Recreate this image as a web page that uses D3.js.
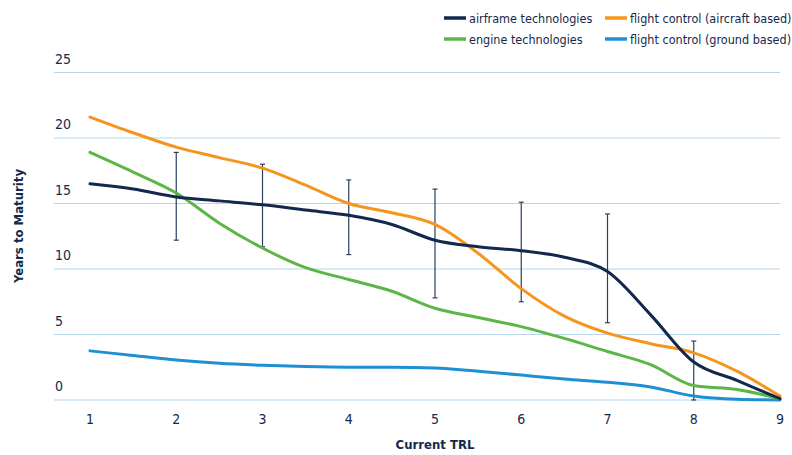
<!DOCTYPE html>
<html lang="en">
<head>
  <meta charset="UTF-8">
  <title>Years to Maturity by Current TRL</title>
  <script src="https://d3js.org/d3.v7.min.js"></script>
  <style>
    body {
      margin: 0;
      background: #fff;
    }
    svg text {
      fill: #13294b;
      font-family: 'DejaVu Sans Condensed', 'DejaVu Sans', sans-serif;
      font-stretch: condensed;
    }
  </style>
</head>
<body>
  <svg id="chart" width="792" height="455"></svg>

  <script>
    // values, at half-TRL steps
    var trlSteps = [1, 1.5, 2, 2.5, 3, 3.5, 4, 4.5, 5, 5.5, 6, 6.5, 7, 7.5, 8, 8.5, 9];
    var airframe = [16.5, 16.1, 15.5, 15.2, 14.9, 14.5, 14.1, 13.4, 12.2, 11.7, 11.4, 10.9, 9.8, 6.5, 2.9, 1.5, 0.1];
    var engine = [18.9, 17.4, 15.8, 13.5, 11.6, 10.1, 9.2, 8.3, 7.0, 6.3, 5.6, 4.7, 3.7, 2.7, 1.1, 0.8, 0.1];
    var flightAircraft = [21.6, 20.4, 19.3, 18.5, 17.7, 16.4, 15.0, 14.3, 13.4, 11.2, 8.5, 6.4, 5.1, 4.3, 3.6, 2.2, 0.3];
    var flightGround = [3.75, 3.4, 3.05, 2.8, 2.65, 2.55, 2.5, 2.5, 2.45, 2.2, 1.9, 1.6, 1.35, 1.0, 0.3, 0.05, 0];

    // error bars (airframe technologies)
    var barTrl = [2, 3, 4, 5, 6, 7, 8];
    var barHigh = [18.9, 18.0, 16.8, 16.1, 15.1, 14.2, 4.5];
    var barLow = [12.2, 11.7, 11.1, 7.8, 7.5, 5.9, 0];

    var xTicks = [1, 2, 3, 4, 5, 6, 7, 8, 9];
    var yTicks = [0, 5, 10, 15, 20, 25];

    var series = [
      { name: "airframe technologies", values: airframe, color: "#12284c" },
      { name: "engine technologies", values: engine, color: "#5cb647" },
      { name: "flight control (aircraft based)", values: flightAircraft, color: "#f7941e" },
      { name: "flight control (ground based)", values: flightGround, color: "#1f8fd3" }
    ];

    var svg = d3.select("#chart");
    var x = d3.scaleLinear().domain([1, 9]).range([90, 780]);
    var y = d3.scaleLinear().domain([0, 25]).range([400, 72.5]);

    // gridlines + y labels
    svg.append("g").selectAll("line")
      .data(yTicks)
      .join("line")
      .attr("x1", 54).attr("x2", 780)
      .attr("y1", d => y(d)).attr("y2", d => y(d))
      .attr("stroke", "#b5d6ea")
      .attr("stroke-width", 1.2);

    svg.append("g").selectAll("text")
      .data(yTicks)
      .join("text")
      .attr("x", 55)
      .attr("y", d => y(d) - 9)
      .attr("font-size", 14)
      .text(d => d);

    // x labels
    svg.append("g").selectAll("text")
      .data(xTicks)
      .join("text")
      .attr("x", d => x(d))
      .attr("y", 424)
      .attr("text-anchor", "middle")
      .attr("font-size", 14)
      .text(d => d);

    // axis titles
    svg.append("text")
      .attr("x", 435).attr("y", 449)
      .attr("text-anchor", "middle")
      .attr("font-size", 13)
      .attr("font-weight", "bold")
      .text("Current TRL");

    svg.append("text")
      .attr("transform", "translate(23,226) rotate(-90)")
      .attr("text-anchor", "middle")
      .attr("font-size", 13)
      .attr("font-weight", "bold")
      .text("Years to Maturity");

    // error bars
    var bars = svg.append("g").attr("stroke", "#2b3f63").attr("stroke-width", 1.2);
    barTrl.forEach(function(t, i) {
      bars.append("line")
        .attr("x1", x(t)).attr("x2", x(t))
        .attr("y1", y(barHigh[i])).attr("y2", y(barLow[i]));
      [barHigh[i], barLow[i]].forEach(function(v) {
        bars.append("line")
          .attr("x1", x(t) - 2.5).attr("x2", x(t) + 2.5)
          .attr("y1", y(v)).attr("y2", y(v));
      });
    });

    // lines
    var line = d3.line()
      .x((d, i) => x(trlSteps[i]))
      .y(d => y(d))
      .curve(d3.curveMonotoneX);

    var drawOrder = [series[3], series[1], series[2], series[0]];
    svg.append("g").selectAll("path")
      .data(drawOrder)
      .join("path")
      .attr("d", d => line(d.values))
      .attr("fill", "none")
      .attr("stroke", d => d.color)
      .attr("stroke-width", 3)
      .attr("stroke-linejoin", "round")
      .attr("stroke-linecap", "round");

    // legend
    var legendPos = [[444, 18], [444, 39], [605, 18], [605, 39]];
    var legend = svg.append("g").selectAll("g")
      .data(series)
      .join("g")
      .attr("transform", (d, i) => `translate(${legendPos[i][0]},${legendPos[i][1]})`);
    legend.append("line")
      .attr("x1", 0).attr("x2", 22)
      .attr("stroke", d => d.color)
      .attr("stroke-width", 3.5);
    legend.append("text")
      .attr("x", 25).attr("y", 4.5)
      .attr("font-size", 12.5)
      .text(d => d.name);
  </script>
</body>
</html>
